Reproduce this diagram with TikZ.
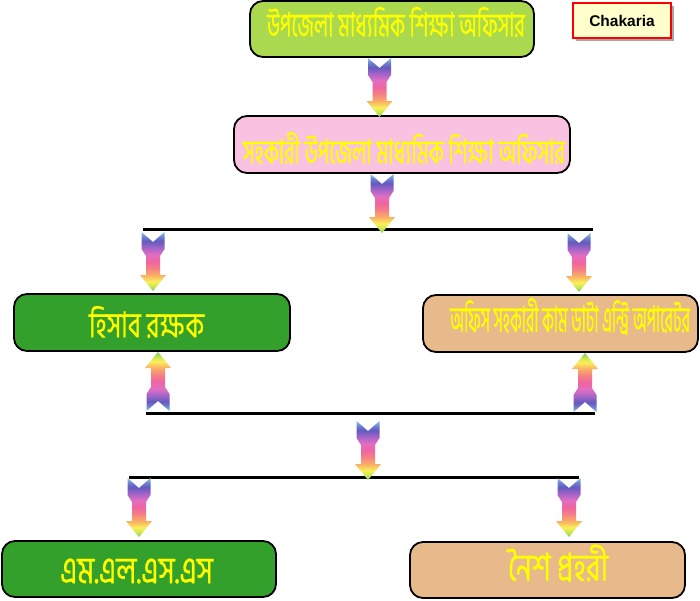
\documentclass[tikz,border=0pt]{standalone}
\usepackage{fontspec}
\setmainfont{Liberation Sans}
\newfontfamily\bn[Script=Bengali, FakeBold=0.6]{Hind Siliguri}
\usetikzlibrary{shadows}
\XeTeXuseglyphmetrics=1
\definecolor{rbA}{RGB}{120,200,110}
\definecolor{rbB}{RGB}{200,230,80}
\definecolor{rbC}{RGB}{250,240,90}
\definecolor{rbD}{RGB}{250,180,100}
\definecolor{rbE}{RGB}{245,130,130}
\definecolor{rbF}{RGB}{240,100,160}
\definecolor{rbG}{RGB}{225,110,195}
\definecolor{rbH}{RGB}{160,100,200}
\definecolor{rbI}{RGB}{100,90,190}
\definecolor{rbJ}{RGB}{110,130,210}
\definecolor{rbK}{RGB}{140,200,230}
\definecolor{limebox}{RGB}{170,217,80}
\definecolor{pinkbox}{RGB}{249,194,225}
\definecolor{greenbox}{RGB}{51,160,44}
\definecolor{tanbox}{RGB}{232,185,138}
\definecolor{chakfill}{RGB}{255,255,204}
\definecolor{txtyellow}{RGB}{255,255,0}
\pgfdeclareverticalshading{rainbow}{100bp}{color(0bp)=(rbA); color(25bp)=(rbA); color(29bp)=(rbB); color(33bp)=(rbC); color(38bp)=(rbD); color(44bp)=(rbE); color(50bp)=(rbF); color(56bp)=(rbG); color(62bp)=(rbH); color(67bp)=(rbI); color(71bp)=(rbJ); color(75bp)=(rbK); color(100bp)=(rbK)}
\newcommand\bt[3]{\resizebox*{#1pt}{#2pt}{\bn #3}}
\tikzset{
  box/.style={draw=black, line width=1.8pt, rounded corners=13pt, inner sep=0pt},
  txt/.style={text=txtyellow, inner sep=0pt},
  bar/.style={draw=black, line width=3pt},
  chak/.style={draw=red, line width=2pt, fill=chakfill, inner sep=0pt,
    minimum width=98pt, minimum height=35pt, font=\bfseries\fontsize{15.5}{18}\selectfont,
    drop shadow={shadow xshift=3pt, shadow yshift=-3pt, fill=black, opacity=0.35}},
  dnarr/.pic={\shade[shading=rainbow] (-11.5,0) -- (0,10) -- (11.5,0) -- (11.5,17) -- (7,24) -- (7,43) -- (13,43) -- (0,59) -- (-13,43) -- (-7,43) -- (-7,24) -- (-11.5,17) -- cycle;},
  uparr/.pic={\shade[shading=rainbow, shading angle=180] (0,0) -- (13,16) -- (7,16) -- (7,35) -- (11.5,42) -- (11.5,59) -- (0,49) -- (-11.5,59) -- (-11.5,42) -- (-7,35) -- (-7,16) -- (-13,16) -- cycle;}
}
\begin{document}
\begin{tikzpicture}[x=1pt,y=-1pt]
\useasboundingbox (0,0) rectangle (700,600);
% boxes
\node[box, fill=limebox, minimum width=284pt, minimum height=56pt] (b1) at (392,29) {};
\node[box, fill=pinkbox, minimum width=336pt, minimum height=57pt] (b2) at (402,144.5) {};
\node[box, fill=greenbox, minimum width=276pt, minimum height=57pt] (b3) at (152,322.5) {};
\node[box, fill=tanbox, minimum width=275pt, minimum height=57pt] (b4) at (560.5,323.5) {};
\node[box, fill=greenbox, minimum width=274pt, minimum height=56pt] (b5) at (139,569) {};
\node[box, fill=tanbox, minimum width=275pt, minimum height=56pt] (b6) at (547.5,570) {};
% texts
\node[txt] (t1) at ([shift={(4pt,7pt)}]b1.center) {\bt{258}{30}{উপজেলা মাধ্যমিক শিক্ষা অফিসার}};
\node[txt] (t2) at ([shift={(2pt,-3.5pt)}]b2.center) {\bt{322}{32}{সহকারী উপজেলা মাধ্যমিক শিক্ষা অফিসার}};
\node[txt] (t3) at ([shift={(-5.5pt,0.5pt)}]b3.center) {\bt{115}{32}{হিসাব রক্ষক}};
\node[txt] (t4) at ([shift={(9.5pt,7pt)}]b4.center) {\bt{240}{37}{অফিস সহকারী কাম ডাটা এন্ট্রি অপারেটর}};
\node[txt] (t5) at ([shift={(-2.5pt,-2pt)}]b5.center) {\bt{153}{25}{এম.এল.এস.এস}};
\node[txt] (t6) at ([shift={(10.5pt,7pt)}]b6.center) {\bt{100}{37}{নৈশ প্রহরী}};
% Chakaria label
\node[chak] (ck) at (622,20.5) {Chakaria};
% horizontal bars
\coordinate (l1a) at (143,229.5); \coordinate (l1b) at (593,229.5);
\coordinate (l2a) at (146,413); \coordinate (l2b) at (595,413);
\coordinate (l3a) at (129,477); \coordinate (l3b) at (579,477);
\draw[bar] (l1a) -- (l1b);
\draw[bar] (l2a) -- (l2b);
\draw[bar] (l3a) -- (l3b);
% arrows
\pic at (379.5,58) {dnarr};
\pic at (382,174) {dnarr};
\pic at (153,232) {dnarr};
\pic at (579,233) {dnarr};
\pic at (158,352) {uparr};
\pic at (585,353) {uparr};
\pic at (368,421) {dnarr};
\pic at (139,478) {dnarr};
\pic at (569,478) {dnarr};
\end{tikzpicture}
\end{document}
